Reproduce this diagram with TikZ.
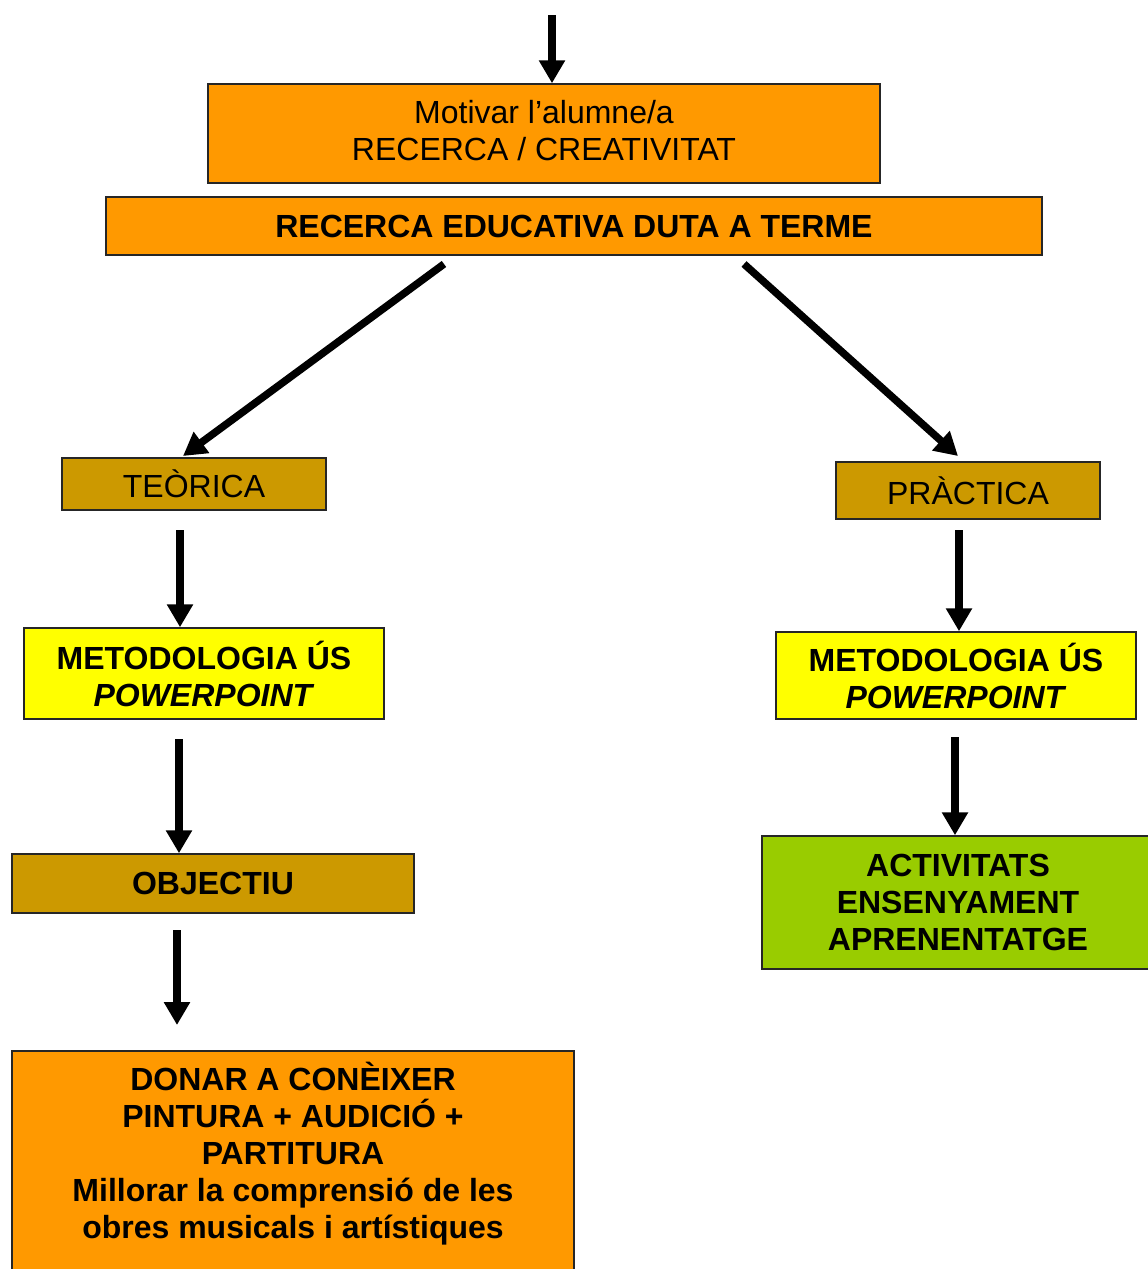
\documentclass[tikz,border=0pt]{standalone}
\usepackage{fontspec}
\setmainfont{Liberation Sans}
\usetikzlibrary{arrows.meta}
\definecolor{taronja}{HTML}{FF9900}
\definecolor{ocre}{HTML}{CC9900}
\definecolor{groc}{HTML}{FFFF00}
\definecolor{verd}{HTML}{99CC00}
\tikzset{
    caixa/.style={draw=black!85, line width=1.5pt, inner sep=0pt, align=center, font=\fontsize{32}{37}\selectfont},
    negreta/.style={caixa, font=\fontsize{32}{37}\selectfont\bfseries},
    fletxa/.style={line width=7.5pt, -{Triangle[width=25pt,length=23pt]}},
}
\begin{document}
\begin{tikzpicture}[x=1pt, y=-1pt]
    \useasboundingbox (0,0) rectangle (1148,1269);
    \node[caixa, fill=taronja, minimum width=672pt, minimum height=99pt, text depth=6pt] (motivar) at (544,133.5) {Motivar l’alumne/a\\RECERCA / CREATIVITAT};
    \node[negreta, fill=taronja, minimum width=936pt, minimum height=58pt] (recerca) at (574,226) {RECERCA EDUCATIVA DUTA A TERME};
    \node[caixa, fill=ocre, minimum width=264pt, minimum height=52pt] (teorica) at (194,484) {TEÒRICA};
    \node[caixa, fill=ocre, minimum width=264pt, minimum height=57pt] (practica) at (968,490.5) {PRÀCTICA};
    \node[negreta, fill=groc, minimum width=360pt, minimum height=91pt] (metoT) at (204,673.5) {METODOLOGIA ÚS\\\textit{POWERPOINT}};
    \node[negreta, fill=groc, minimum width=360pt, minimum height=87pt] (metoP) at (956,675.5) {METODOLOGIA ÚS\\\textit{POWERPOINT}};
    \node[negreta, fill=ocre, minimum width=402pt, minimum height=59pt] (objectiu) at (213,883.5) {OBJECTIU};
    \node[negreta, fill=verd, minimum width=392pt, minimum height=133pt] (activitats) at (958,902.5) {ACTIVITATS\\ENSENYAMENT\\APRENENTATGE};
    \node[negreta, fill=taronja, anchor=north, minimum width=562pt, inner ysep=11pt, text depth=120pt] (donar) at (293,1050) {DONAR A CONÈIXER\\PINTURA + AUDICIÓ +\\PARTITURA\\Millorar la comprensió de les\\obres musicals i artístiques};

    \coordinate (inici) at (552,15);
    \coordinate (dE) at (444,264);
    \coordinate (dD) at (744,264);
    \coordinate (tE) at (183,456);
    \coordinate (tD) at (958,456);
    \coordinate (a1) at (180,530);
    \coordinate (a2) at (179,739);
    \coordinate (a3) at (177,930);
    \coordinate (b1) at (959,530);
    \coordinate (b2) at (955,737);
    \draw[fletxa] (inici) -- (inici |- motivar.north);
    \draw[fletxa] (dE) -- (tE);
    \draw[fletxa] (dD) -- (tD);
    \draw[fletxa] (a1) -- (a1 |- metoT.north);
    \draw[fletxa] (a2) -- (a2 |- objectiu.north);
    \draw[fletxa] (a3) -- ([yshift=25pt]a3 |- donar.north);
    \draw[fletxa] (b1) -- (b1 |- metoP.north);
    \draw[fletxa] (b2) -- (b2 |- activitats.north);
\end{tikzpicture}
\end{document}
